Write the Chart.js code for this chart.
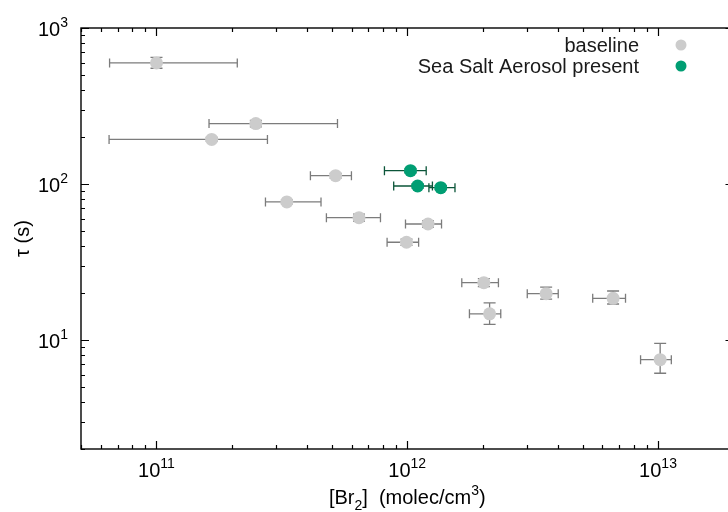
<!DOCTYPE html>
<html>
<head>
<meta charset="utf-8">
<script src="https://cdn.jsdelivr.net/npm/chart.js@4"></script>
<style>
  html, body { margin: 0; padding: 0; background: #fff; overflow: hidden; }
  #wrap { width: 740px; height: 512px; }
</style>
</head>
<body>
<div id="wrap"><canvas id="c" width="740" height="512"></canvas></div>
<script>
// Baseline runs: [Br2] (molec/cm3) with its range, decay time tau (s) with its range
const baseBr2   = [1.0e11, 2.49e11, 1.66e11, 5.18e11, 3.31e11, 6.42e11, 1.21e12, 9.93e11, 2.02e12, 2.13e12, 3.58e12, 6.62e12, 1.02e13];
const baseBr2Lo = [6.5e10, 1.62e11, 6.47e10, 4.11e11, 2.72e11, 4.76e11, 9.84e11, 8.31e11, 1.65e12, 1.77e12, 3.01e12, 5.49e12, 8.52e12];
const baseBr2Hi = [2.1e11, 5.27e11, 2.77e11, 5.99e11, 4.53e11, 7.82e11, 1.37e12, 1.11e12, 2.31e12, 2.36e12, 4.0e12, 7.42e12, 1.13e13];
const baseTau   = [597, 244, 193, 113, 76.7, 60.8, 55.4, 42.3, 23.3, 14.7, 19.8, 18.5, 7.48];
const baseTauLo = [552, 232, 188, 109, 74.5, 57.8, 52.9, 40.4, 22.0, 12.6, 18.3, 17.0, 6.12];
const baseTauHi = [648, 256, 199, 117, 79.0, 64.0, 58.0, 44.3, 24.7, 17.3, 21.8, 20.6, 9.52];

// Runs with sea salt aerosol in the chamber
const ssaBr2    = [1.03e12, 1.10e12, 1.36e12];
const ssaBr2Lo  = [8.11e11, 8.83e11, 1.22e12];
const ssaBr2Hi  = [1.19e12, 1.26e12, 1.55e12];
const ssaTau    = [121.7, 97.1, 94.7];
const ssaTauLo  = [118, 94, 92];
const ssaTauHi  = [125, 100, 97.5];

// Axis ranges and labelled decades
const xRange = [5e10, 2e13];
const yRange = [2, 1000];
const xTickExps = [11, 12, 13];
const yTickExps = [1, 2, 3];

const seriesNames = ['baseline', 'Sea Salt Aerosol present'];

const FONT = '"Liberation Sans", Arial, Helvetica, sans-serif';

function toPoints(xs, ys) {
  return xs.map((x, i) => ({ x: x, y: ys[i] }));
}

const series = [
  { name: seriesNames[0], x: baseBr2, xLo: baseBr2Lo, xHi: baseBr2Hi, y: baseTau, yLo: baseTauLo, yHi: baseTauHi,
    fill: '#cccccc', bar: '#7c7c7c' },
  { name: seriesNames[1], x: ssaBr2, xLo: ssaBr2Lo, xHi: ssaBr2Hi, y: ssaTau, yLo: ssaTauLo, yHi: ssaTauHi,
    fill: '#009e73', bar: '#0b5539' }
];

// Draws "base" followed by a raised exponent; align is 'center' or 'right'
function drawPower(ctx, base, exp, x, y, align) {
  ctx.font = '20px ' + FONT;
  const wb = ctx.measureText(base).width;
  ctx.font = '14px ' + FONT;
  const we = ctx.measureText(exp).width;
  const total = wb + we;
  let x0 = align === 'center' ? x - total / 2 : x - total;
  ctx.textAlign = 'left';
  ctx.textBaseline = 'alphabetic';
  ctx.font = '20px ' + FONT;
  ctx.fillText(base, x0, y);
  ctx.font = '14px ' + FONT;
  ctx.fillText(exp, x0 + wb, y - 9);
}

const errorBars = {
  id: 'errorBars',
  beforeDatasetsDraw(chart) {
    const ctx = chart.ctx, xs = chart.scales.x, ys = chart.scales.y;
    ctx.save();
    ctx.lineWidth = 1.3;
    series.forEach(s => {
      ctx.strokeStyle = s.bar;
      s.x.forEach((xv, i) => {
        const px = xs.getPixelForValue(xv), py = ys.getPixelForValue(s.y[i]);
        const xl = xs.getPixelForValue(s.xLo[i]), xh = xs.getPixelForValue(s.xHi[i]);
        const yl = ys.getPixelForValue(s.yLo[i]), yh = ys.getPixelForValue(s.yHi[i]);
        ctx.beginPath();
        // horizontal bar with end caps
        ctx.moveTo(xl, py); ctx.lineTo(xh, py);
        ctx.moveTo(xl, py - 4.5); ctx.lineTo(xl, py + 4.5);
        ctx.moveTo(xh, py - 4.5); ctx.lineTo(xh, py + 4.5);
        // vertical bar with end caps
        ctx.moveTo(px, yl); ctx.lineTo(px, yh);
        ctx.moveTo(px - 6, yl); ctx.lineTo(px + 6, yl);
        ctx.moveTo(px - 6, yh); ctx.lineTo(px + 6, yh);
        ctx.stroke();
      });
    });
    ctx.restore();
  }
};

const frameAndLabels = {
  id: 'frameAndLabels',
  afterDatasetsDraw(chart) {
    const ctx = chart.ctx, xs = chart.scales.x, ys = chart.scales.y;
    const a = chart.chartArea;
    ctx.save();
    ctx.strokeStyle = '#000';
    ctx.fillStyle = '#000';
    ctx.lineWidth = 1.4;

    // border
    ctx.strokeRect(a.left, a.top, a.right - a.left, a.bottom - a.top);

    // log ticks, pointing inward on all four sides
    ctx.lineWidth = 1.2;
    ctx.beginPath();
    for (let d = 10; d <= 13; d++) {
      for (let k = 1; k <= 9; k++) {
        const v = k * Math.pow(10, d);
        if (v < xRange[0] * 0.999 || v > xRange[1] * 1.001) continue;
        const p = Math.round(xs.getPixelForValue(v)) + 0.5;
        const len = k === 1 ? 8 : 4;
        ctx.moveTo(p, a.bottom); ctx.lineTo(p, a.bottom - len);
        ctx.moveTo(p, a.top); ctx.lineTo(p, a.top + len);
      }
    }
    for (let d = 0; d <= 3; d++) {
      for (let k = 1; k <= 9; k++) {
        const v = k * Math.pow(10, d);
        if (v < yRange[0] * 0.999 || v > yRange[1] * 1.001) continue;
        const p = Math.round(ys.getPixelForValue(v)) + 0.5;
        const len = k === 1 ? 8 : 4;
        ctx.moveTo(a.left, p); ctx.lineTo(a.left + len, p);
        ctx.moveTo(a.right, p); ctx.lineTo(a.right - len, p);
      }
    }
    ctx.stroke();

    // tick labels
    xTickExps.forEach(e => {
      const p = xs.getPixelForValue(Math.pow(10, e));
      drawPower(ctx, '10', String(e), p, a.bottom + 28, 'center');
    });
    yTickExps.forEach(e => {
      const p = ys.getPixelForValue(Math.pow(10, e));
      drawPower(ctx, '10', String(e), a.left - 13, p + 8, 'right');
    });

    // x-axis title: [Br2]  (molec/cm3)
    const parts = [
      { t: '[Br', s: 20, dy: 0 },
      { t: '2', s: 14, dy: 6 },
      { t: ']  (molec/cm', s: 20, dy: 0 },
      { t: '3', s: 14, dy: -9 },
      { t: ')', s: 20, dy: 0 }
    ];
    let tw = 0;
    parts.forEach(p => { ctx.font = p.s + 'px ' + FONT; p.w = ctx.measureText(p.t).width; tw += p.w; });
    let cx = (a.left + a.right) / 2 - tw / 2;
    ctx.textAlign = 'left';
    ctx.textBaseline = 'alphabetic';
    parts.forEach(p => {
      ctx.font = p.s + 'px ' + FONT;
      ctx.fillText(p.t, cx, 504 + p.dy);
      cx += p.w;
    });

    // y-axis title
    ctx.save();
    ctx.translate(29, (a.top + a.bottom) / 2);
    ctx.rotate(-Math.PI / 2);
    ctx.font = '20px ' + FONT;
    ctx.textAlign = 'center';
    ctx.fillText('\u03c4 (s)', 0, 0);
    ctx.restore();

    // key, top right
    ctx.font = '20px ' + FONT;
    ctx.textAlign = 'right';
    series.forEach((s, i) => {
      const ly = 45 + i * 21;
      ctx.fillStyle = '#1a1a1a';
      ctx.fillText(s.name, 639, ly + 7);
      ctx.fillStyle = s.fill;
      ctx.beginPath();
      ctx.arc(681, ly, 5.5, 0, Math.PI * 2);
      ctx.fill();
    });
    ctx.restore();
  }
};

new Chart(document.getElementById('c'), {
  type: 'scatter',
  data: {
    datasets: series.map(s => ({
      label: s.name,
      data: toPoints(s.x, s.y),
      backgroundColor: s.fill,
      borderWidth: 0,
      pointRadius: 6.5,
      pointHoverRadius: 6.5
    }))
  },
  options: {
    responsive: false,
    animation: false,
    devicePixelRatio: 1,
    layout: { padding: { left: 81, top: 28, right: 6, bottom: 63 } },
    scales: {
      x: { type: 'logarithmic', min: xRange[0], max: xRange[1], display: false },
      y: { type: 'logarithmic', min: yRange[0], max: yRange[1], display: false }
    },
    plugins: { legend: { display: false }, tooltip: { enabled: false } }
  },
  plugins: [errorBars, frameAndLabels]
});
</script>
</body>
</html>
